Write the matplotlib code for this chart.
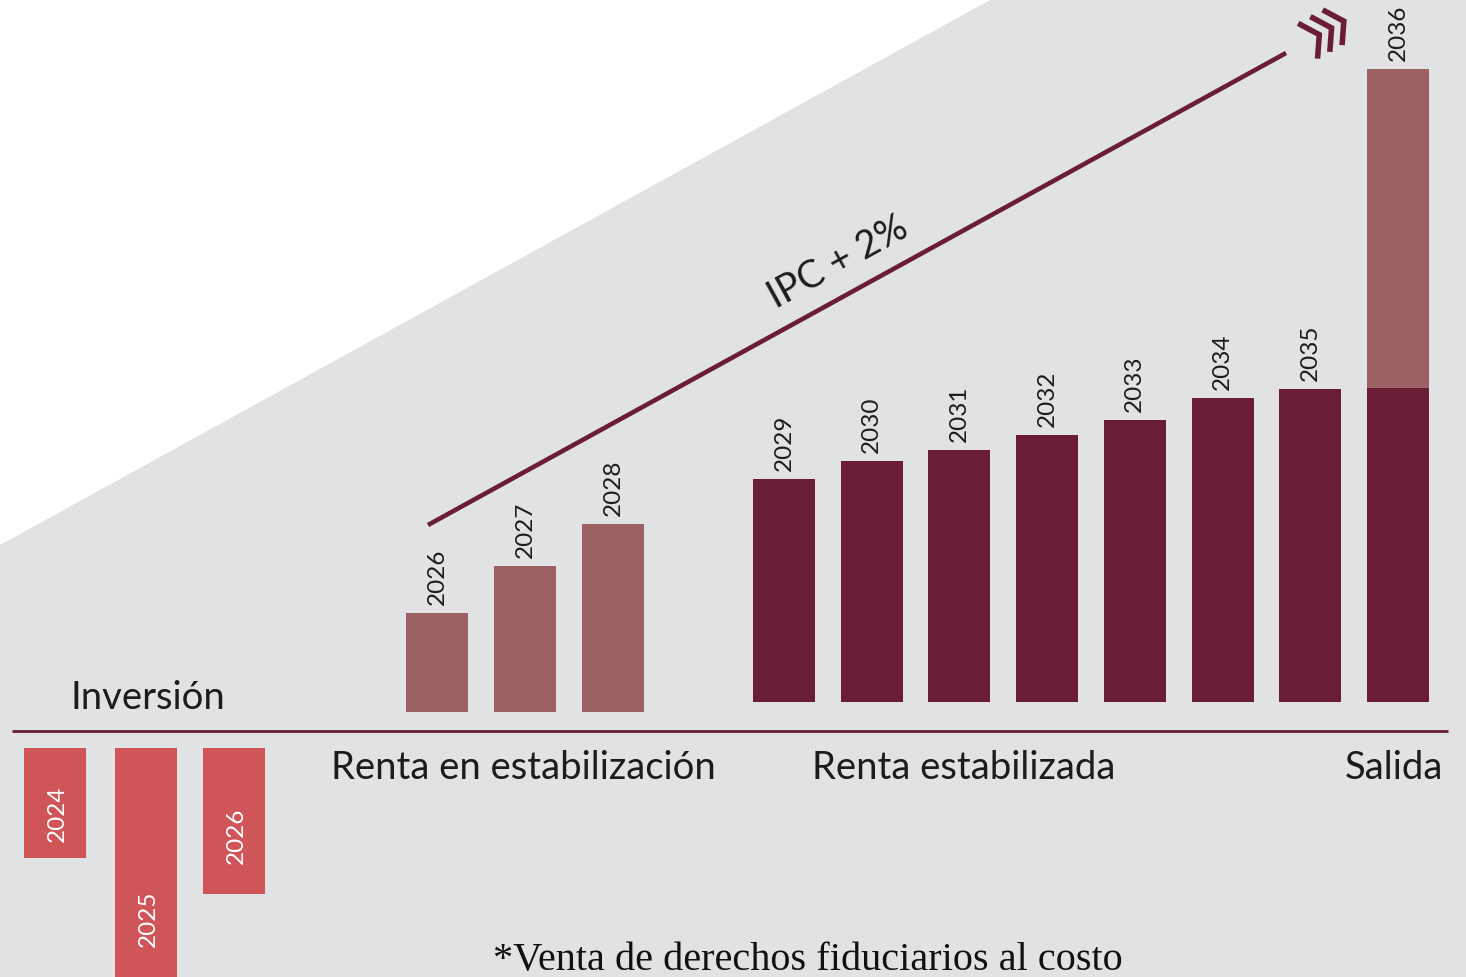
import numpy as np
import matplotlib.pyplot as plt
from matplotlib.patches import Polygon

# Datos (unidades arbitrarias)
anios_inversion = ['2024', '2025', '2026']
inversion = [110, 285, 146]

anios_estab = ['2026', '2027', '2028']
renta_estab = [99, 146, 188]

anios_renta = ['2029', '2030', '2031', '2032', '2033', '2034', '2035', '2036']
renta = [223, 241, 252, 267, 282, 304, 313, 314]
salida = 319  # venta al final (2036)

etiquetas_fases = ['Inversión', 'Renta en estabilización', 'Renta estabilizada', 'Salida']
texto_ipc = 'IPC + 2%'
nota = '*Venta de derechos fiduciarios al costo'

# Colores
gris = '#e1e2e4'
rojo_inv = '#d05559'
vino_claro = '#9c6065'
vino = '#6b1d35'
texto = '#1c1c1c'

W, H = 1466, 977
fig = plt.figure(figsize=(W / 100, H / 100), dpi=100)
ax = fig.add_axes([0, 0, 1, 1])
ax.set_xlim(0, W)
ax.set_ylim(-246, 731)
ax.axis('off')
fig.patch.set_facecolor('white')

# Fondo gris en diagonal
ax.add_patch(Polygon([(0, 186), (990, 731), (W, 731), (W, -246), (0, -246)],
                     closed=True, facecolor=gris, edgecolor='none', zorder=0))

fuente = 'Lato'
ancho = 62
fs_anio = 17.5
fs_fase = 27.5

# Barras de inversión (negativas)
x_inv = 55 + np.array([0, 91, 179])
ax.bar(x_inv, [-v for v in inversion], bottom=-17, width=ancho, color=rojo_inv, zorder=2)
for x, v, a in zip(x_inv, inversion, anios_inversion):
    ax.text(x + 2, -17 - 0.6 * v, a, rotation=90, ha='center', va='center',
            color='white', fontsize=fs_anio, family=fuente, zorder=3)

# Renta en estabilización
x_est = 437 + 88 * np.arange(len(renta_estab))
ax.bar(x_est, renta_estab, bottom=19, width=ancho, color=vino_claro, zorder=2)
for x, v, a in zip(x_est, renta_estab, anios_estab):
    ax.text(x, 19 + v + 8, a, rotation=90, ha='center', va='bottom',
            color=texto, fontsize=fs_anio, family=fuente, zorder=3)

# Renta estabilizada + salida
x_ren = 784 + 87.7 * np.arange(len(renta))
ax.bar(x_ren, renta, bottom=29, width=ancho, color=vino, zorder=2)
ax.bar(x_ren[-1], salida, bottom=29 + renta[-1], width=ancho, color=vino_claro, zorder=2)
for i, (x, v, a) in enumerate(zip(x_ren, renta, anios_renta)):
    tope = 29 + v + (salida if i == len(renta) - 1 else 0)
    ax.text(x, tope + 8, a, rotation=90, ha='center', va='bottom',
            color=texto, fontsize=fs_anio, family=fuente, zorder=3)

# Línea base
ax.plot([12, 1448], [0, 0], color=vino, lw=2, zorder=2, solid_capstyle='butt')

# Línea IPC + 2%
p0 = np.array([428, 731 - 525])
p1 = np.array([1286, 731 - 53])
ax.plot([p0[0], p1[0]], [p0[1], p1[1]], color=vino, lw=3.3, zorder=2, solid_capstyle='butt')
d = (p1 - p0) / np.linalg.norm(p1 - p0)
n = np.array([-d[1], d[0]])
ang = np.degrees(np.arctan2(d[1], d[0]))

# Flechas (chevrons)
for dist in [38, 52, 66]:
    tip = p1 + d * dist
    brazo = 24
    a1 = tip - brazo * (np.cos(np.radians(57)) * d - np.sin(np.radians(57)) * n)
    a2 = tip - brazo * (np.cos(np.radians(57)) * d + np.sin(np.radians(57)) * n)
    ax.plot([a1[0], tip[0], a2[0]], [a1[1], tip[1], a2[1]], color=vino, lw=4,
            solid_joinstyle='miter', solid_capstyle='butt', zorder=2)

ax.text(838, 731 - 262, texto_ipc, rotation=ang, rotation_mode='anchor',
        ha='center', va='center', fontsize=fs_fase, color=texto, family=fuente,
        zorder=3)

# Etiquetas de fases
ax.text(70, 22, etiquetas_fases[0], ha='left', va='baseline', fontsize=fs_fase,
        color=texto, family=fuente)
ax.text(523, -48, etiquetas_fases[1], ha='center', va='baseline', fontsize=fs_fase,
        color=texto, family=fuente)
ax.text(964, -48, etiquetas_fases[2], ha='center', va='baseline', fontsize=fs_fase,
        color=texto, family=fuente)
ax.text(1443, -48, etiquetas_fases[3], ha='right', va='baseline', fontsize=fs_fase,
        color=texto, family=fuente)

# Nota al pie
ax.text(808, -239, nota, ha='center', va='baseline', fontsize=29,
        color='#111111', family='Liberation Serif')

fig.savefig('out.png', dpi=100, facecolor=fig.get_facecolor())
